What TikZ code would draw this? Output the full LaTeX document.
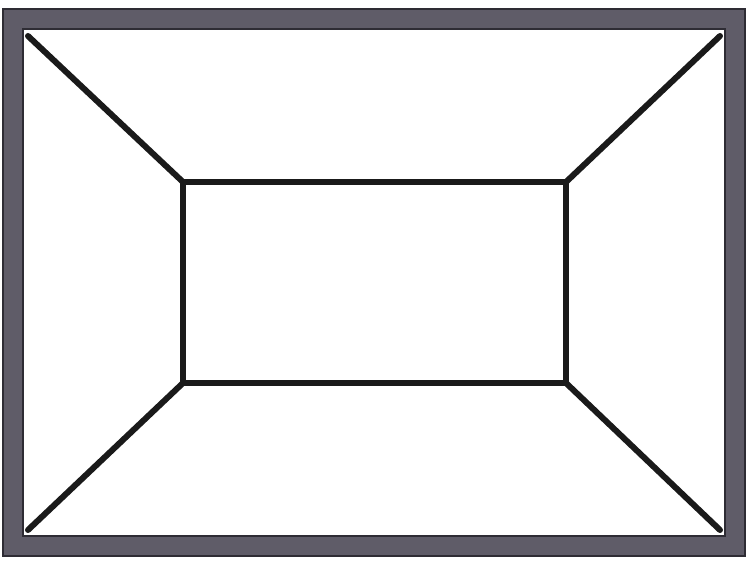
\documentclass[tikz,border=0pt]{standalone}
\usetikzlibrary{calc}
\definecolor{bandgray}{HTML}{5F5C68}
\definecolor{bandedge}{HTML}{2E2C34}
\definecolor{linedark}{HTML}{1A1A1A}
\tikzset{
  band/.style={draw=bandedge, line width=22pt, line join=miter},
  bandfill/.style={draw=bandgray, line width=18pt, line join=miter},
  edge/.style={draw=linedark, line width=6pt, line cap=round, line join=round},
}
\begin{document}
\begin{tikzpicture}[x=1pt,y=-1pt]
\useasboundingbox (0,0) rectangle (750,564);
\fill[white] (0,0) rectangle (750,564);
% inner rectangle corners
\coordinate (i1) at (183,182);
\coordinate (i2) at (566,182);
\coordinate (i3) at (566,383);
\coordinate (i4) at (183,383);
% outer corners
\coordinate (o1) at (13,19.5);
\coordinate (o2) at (735,19.5);
\coordinate (o3) at (735,546);
\coordinate (o4) at (13,546);
\coordinate (c1) at (28,36);
\coordinate (c2) at (720,36);
\coordinate (c3) at (720,530);
\coordinate (c4) at (28,530);
\draw[edge] (c1) -- (i1);
\draw[edge] (c2) -- (i2);
\draw[edge] (c3) -- (i3);
\draw[edge] (c4) -- (i4);
\draw[edge] (i1) -- (i2) -- (i3) -- (i4) -- cycle;
\draw[band] (o1) -- (o2) -- (o3) -- (o4) -- cycle;
\draw[bandfill] (o1) -- (o2) -- (o3) -- (o4) -- cycle;
\end{tikzpicture}
\end{document}
